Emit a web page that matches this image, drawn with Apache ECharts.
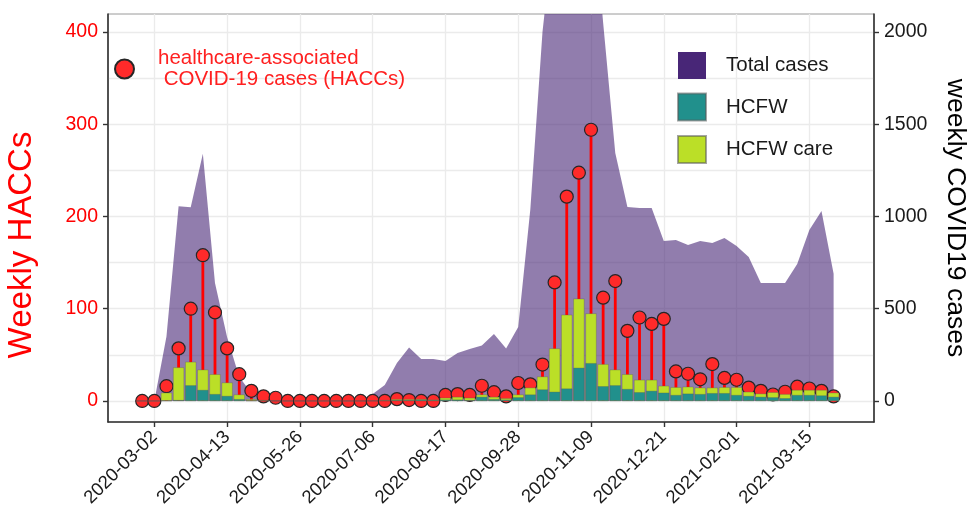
<!DOCTYPE html>
<html><head><meta charset="utf-8">
<script src="https://cdn.jsdelivr.net/npm/echarts@6/dist/echarts.min.js"></script>
<style>html,body{margin:0;padding:0;background:#fff}#c{width:971px;height:522px}</style>
</head><body><div id="c"></div>
<script>
const weeks = ['2020-02-24','2020-03-02','2020-03-09','2020-03-16','2020-03-23','2020-03-30','2020-04-06','2020-04-13','2020-04-20','2020-04-27',
  '2020-05-04','2020-05-11','2020-05-18','2020-05-25','2020-06-01','2020-06-08','2020-06-15','2020-06-22','2020-06-29','2020-07-06',
  '2020-07-13','2020-07-20','2020-07-27','2020-08-03','2020-08-10','2020-08-17','2020-08-24','2020-08-31','2020-09-07','2020-09-14',
  '2020-09-21','2020-09-28','2020-10-05','2020-10-12','2020-10-19','2020-10-26','2020-11-02','2020-11-09','2020-11-16','2020-11-23',
  '2020-11-30','2020-12-07','2020-12-14','2020-12-21','2020-12-28','2021-01-04','2021-01-11','2021-01-18','2021-01-25','2021-02-01',
  '2021-02-08','2021-02-15','2021-02-22','2021-03-01','2021-03-08','2021-03-15','2021-03-22','2021-03-29'];
const tickWeeks = [1,7,13,19,25,31,37,43,49,55];
const tickLabels = ['2020-03-02','2020-04-13','2020-05-26','2020-07-06','2020-08-17','2020-09-28','2020-11-09','2020-12-21','2021-02-01','2021-03-15'];
const haccTicks = [0,100,200,300,400];
const caseTicks = [0,500,1000,1500,2000];
const haccGrid = [0,50,100,150,200,250,300,350,400];

const haccs = [0,0,16,57,100,158,96,57,29,11,
  5,3.5,0,0,0,0,0,0,0,0,
  0,2,1,0,0,6.5,7.5,6.5,16.5,9.5,
  5,19.5,18,39.5,128.5,221.5,247.5,294,112,130,
  76,90.5,83.5,89,32,29.5,23.5,40,25,23,
  14.5,11,7,10,15.5,13.5,11,5];
const hcfw = [0,0,0.5,1,17,12,7.5,5.5,2,0.5,
  0,0,0,0,0,0,0,0,0,0,
  0.5,1,1,1.5,1,1.5,1.5,1,4.5,2,
  1.5,4,7,12.5,10,13.5,36,41,16,17,
  13,9.5,11,9,6.5,8,7.5,8.5,8.5,6.5,
  5.5,4.5,4,3,6.5,6.5,6,4.5];
const hcfwCare = [0,0,8.5,35.5,25.5,22,21.5,14.5,5,1.5,
  1,0.5,0,0,0,0,0,0,0,0.5,
  0.5,1,1,0.5,0.5,2,3,2.5,2.5,2.5,
  1.5,3,7.5,14,47,80,75,54,24,17,
  16,13.5,12,7.5,8.5,7.5,7,6,6.5,8.5,
  4.5,3.5,5.5,4.5,5.5,5.5,6,4.5];
const totalCases = [0,0,350,1055,1050,1340,640,345,130,43,
  11,5,0,0,0,0,0,0,5,38,
  87,206,290,228,228,217,260,282,300,363,
  285,401,1040,2000,2600,3000,3200,2800,2050,1344,
  1051,1046,1046,867,873,846,867,856,883,840,
  780,640,640,640,743,927,1030,690];

const HACC_NAME = 'healthcare-associated\n COVID-19 cases (HACCs)';
const FONT = 'Liberation Sans, Arial, sans-serif';
const pair = arr => weeks.map((w, i) => [i, arr[i]]);
// HCFW care bars sit on top of HCFW bars: their top is the sum of both
const careTop = weeks.map((w, i) => [i, hcfw[i] + hcfwCare[i]]);

const xMin = -2.82, xMax = 60.33;
const yMin = -22.8, yMax = 419.5;
const y2Min = -114, y2Max = 2097.5;

const chart = echarts.init(document.getElementById('c'), null, {renderer: 'canvas'});
chart.setOption({
  animation: false,
  backgroundColor: '#ffffff',
  textStyle: {fontFamily: FONT},
  grid: {left: 108, right: 97, top: 14, bottom: 100, show: true, borderColor: '#9a9a9a', borderWidth: 1,
    containLabel: false, outerBoundsMode: 'none'},
  legend: [
    {
      data: ['Total cases', 'HCFW', 'HCFW care'],
      orient: 'vertical', left: 672, top: 47,
      itemWidth: 28, itemHeight: 27, itemGap: 13.5,
      icon: 'rect', selectedMode: false,
      textStyle: {fontSize: 20.5, color: '#1a1a1a', fontFamily: FONT, padding: [0, 0, 0, 15]}
    },
    {
      data: [HACC_NAME],
      orient: 'vertical', left: 109, top: 43,
      itemWidth: 19, itemHeight: 19, icon: 'circle', selectedMode: false,
      textStyle: {fontSize: 20.5, lineHeight: 21, color: '#ff2020', fontFamily: FONT, padding: [0, 0, 0, 19]}
    }
  ],
  xAxis: [
    {
      type: 'value', min: xMin, max: xMax, position: 'bottom',
      axisLine: {show: true, onZero: false, lineStyle: {color: '#333', width: 1.6}},
      axisTick: {show: true, customValues: tickWeeks, length: 5, lineStyle: {color: '#333', width: 1.4}},
      axisLabel: {customValues: tickWeeks, rotate: 45, margin: 12, fontSize: 18.5, color: '#1a1a1a', fontFamily: FONT,
        formatter: v => tickLabels[tickWeeks.indexOf(Math.round(v))] || ''},
      splitLine: {show: true, lineStyle: {color: '#ebebeb', width: 1.3}}
    },
    {
      type: 'value', min: xMin, max: xMax, position: 'bottom', show: false
    }
  ],
  yAxis: [
    {
      type: 'value', min: yMin, max: yMax, position: 'left',
      name: 'Weekly HACCs', nameLocation: 'middle', nameGap: 70, nameRotate: 90,
      nameTextStyle: {color: '#ff0000', fontSize: 33, fontFamily: FONT, padding: [0, 54, 0, 0]},
      axisLine: {show: true, onZero: false, lineStyle: {color: '#333', width: 1.6}},
      axisTick: {show: true, customValues: haccTicks, length: 5, lineStyle: {color: '#333', width: 1.4}},
      axisLabel: {customValues: haccTicks, margin: 10, fontSize: 19.5, color: '#ff0000', fontFamily: FONT},
      splitLine: {show: false}
    },
    {
      type: 'value', min: y2Min, max: y2Max, position: 'right',
      name: 'weekly COVID19 cases', nameLocation: 'middle', nameGap: 68, nameRotate: -90,
      nameTextStyle: {color: '#000', fontSize: 26.5, fontFamily: FONT},
      axisLine: {show: true, onZero: false, lineStyle: {color: '#333', width: 1.6}},
      axisTick: {show: true, customValues: caseTicks, length: 5, lineStyle: {color: '#333', width: 1.4}},
      axisLabel: {customValues: caseTicks, margin: 10, fontSize: 19.5, color: '#1a1a1a', fontFamily: FONT,
        formatter: v => String(v)},
      splitLine: {show: false}
    },
    {
      type: 'value', min: yMin, max: yMax, position: 'left',
      axisLine: {show: false}, axisTick: {show: false, customValues: haccGrid},
      axisLabel: {show: false},
      splitLine: {show: true, lineStyle: {color: '#ebebeb', width: 1.3}}
    }
  ],
  series: [
    {
      name: 'Total cases', type: 'line', xAxisIndex: 0, yAxisIndex: 1,
      data: pair(totalCases), symbol: 'none', z: 1,
      itemStyle: {color: '#482677'},
      lineStyle: {width: 0, color: '#482677'},
      areaStyle: {color: '#482677', opacity: 0.6}
    },
    {
      name: 'stems', type: 'bar', xAxisIndex: 1, yAxisIndex: 0,
      data: pair(haccs), barWidth: 2.8, z: 2,
      itemStyle: {color: '#ff0000'}
    },
    {
      name: HACC_NAME, type: 'scatter', xAxisIndex: 0, yAxisIndex: 0,
      data: pair(haccs), symbolSize: 13, z: 3,
      itemStyle: {color: '#ff2a2a', borderColor: '#262626', borderWidth: 1.2, opacity: 1}
    },
    {
      name: 'HCFW care', type: 'bar', xAxisIndex: 0, yAxisIndex: 0,
      data: careTop, barWidth: 11.2, barGap: '-100%', z: 4,
      itemStyle: {color: '#BBDF27', borderColor: 'rgba(90,90,90,0.55)', borderWidth: 0.6}
    },
    {
      name: 'HCFW', type: 'bar', xAxisIndex: 0, yAxisIndex: 0,
      data: pair(hcfw), barWidth: 11.2, barGap: '-100%', z: 5,
      itemStyle: {color: '#21908C', borderColor: 'rgba(90,90,90,0.55)', borderWidth: 0.6}
    }
  ]
});
</script>
</body></html>
